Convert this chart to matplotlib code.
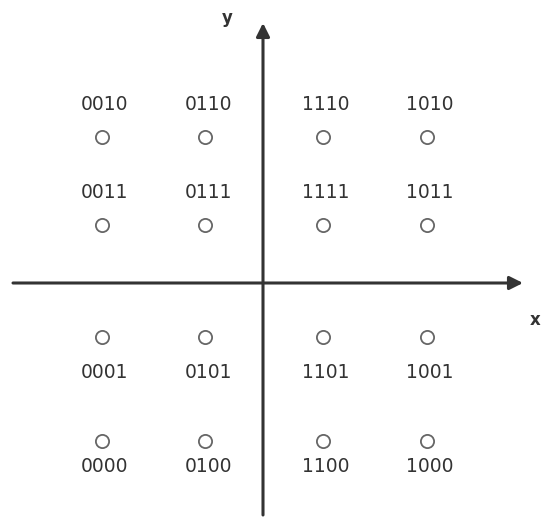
import matplotlib.pyplot as plt

# 16-QAM constellation, positions (pixels from the axes origin)
cols = [-161, -58, 60, 164]
rows = [146, 58, -54, -158]
codes = [
    ['0010', '0110', '1110', '1010'],
    ['0011', '0111', '1111', '1011'],
    ['0001', '0101', '1101', '1001'],
    ['0000', '0100', '1100', '1000'],
]
label_off = [32, 32, -35, -26]   # label above (+) or below (-) the point

fig = plt.figure(figsize=(5.42, 5.19), dpi=100)
ax = fig.add_axes([0, 0, 1, 1])
ax.set_xlim(-263, 279)
ax.set_ylim(-236, 283)
ax.axis('off')

axcol = '#333333'
# axes with arrows
ax.annotate('', xy=(260, 0), xytext=(-250, 0),
            arrowprops=dict(arrowstyle='-|>', lw=2.2, color=axcol, mutation_scale=20,
                            shrinkA=0, shrinkB=0))
ax.annotate('', xy=(0, 260), xytext=(0, -232),
            arrowprops=dict(arrowstyle='-|>', lw=2.2, color=axcol, mutation_scale=20,
                            shrinkA=0, shrinkB=0))
ax.text(-36, 265, 'y', fontsize=12, color=axcol, fontweight='bold', ha='center', va='center')
ax.text(278, -37, 'x', fontsize=12, color=axcol, fontweight='bold', ha='right', va='center')

for i, yv in enumerate(rows):
    for j, xv in enumerate(cols):
        ax.plot(xv, yv, 'o', ms=9.5, mfc='white', mec='#666666', mew=1.3)
        ax.text(xv + 3, yv + label_off[i], codes[i][j], fontsize=13.5, color='#333333',
                ha='center', va='center')

plt.savefig('out.png', dpi=100)
